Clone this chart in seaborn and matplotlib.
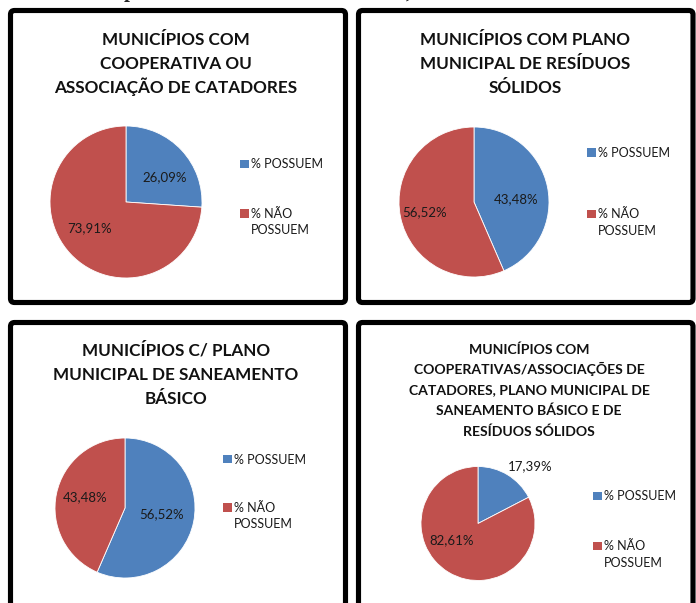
import matplotlib
matplotlib.use("Agg")
import matplotlib.pyplot as plt
from matplotlib.patches import FancyBboxPatch, Rectangle
import seaborn as sns

# ---- data -------------------------------------------------------------
titles = [
    ["MUNICÍPIOS COM", "COOPERATIVA OU", "ASSOCIAÇÃO DE CATADORES"],
    ["MUNICÍPIOS COM PLANO", "MUNICIPAL DE RESÍDUOS", "SÓLIDOS"],
    ["MUNICÍPIOS C/ PLANO", "MUNICIPAL DE SANEAMENTO", "BÁSICO"],
    ["MUNICÍPIOS COM", "COOPERATIVAS/ASSOCIAÇÕES DE",
     "CATADORES, PLANO MUNICIPAL DE", "SANEAMENTO BÁSICO E DE",
     "RESÍDUOS SÓLIDOS"],
]
categories = ["% POSSUEM", "% NÃO\nPOSSUEM"]
possuem = [26.09, 43.48, 56.52, 17.39]
nao_possuem = [73.91, 56.52, 43.48, 82.61]

# ---- layout (pixels, origin top-left) ----------------------------------
W, H = 696, 603
frames = [(10.5, 10.5, 345.5, 302.5), (358.5, 10.5, 693.0, 302.5),
          (10.5, 322.5, 345.5, 640), (358.5, 322.5, 693.0, 640)]
title_cx = [176, 525, 176, 529]
title_baselines = [[45, 69, 93], [45, 69, 93], [356, 380, 404],
                   [353.5, 374, 394.5, 415, 435.5]]
title_sizes = [12.3, 12.3, 12.3, 10.1]
pie_centers = [(126, 202), (474, 202), (125, 508), (478, 523.5)]
pie_radii = [76, 75, 70, 57]
label_pos = [[(165, 177), (90, 228)], [(516, 199), (424.5, 212)],
             [(162, 514), (85, 497)], [(530, 466), (452, 540)]]
legend_x = [240, 587, 223, 593]
legend_y = [(164, 213.5), (152.5, 214), (459, 507.5), (496, 546)]

sns.set_theme(style="white")
plt.rcParams["font.family"] = ["Lato", "DejaVu Sans"]
colors = ["#4F81BD", "#C0504D"]

fig = plt.figure(figsize=(W / 100, H / 100), dpi=100)
fig.patch.set_facecolor("white")

bg = fig.add_axes([0, 0, 1, 1], zorder=0)
bg.set_xlim(0, W)
bg.set_ylim(H, 0)
bg.axis("off")

fg = fig.add_axes([0, 0, 1, 1], zorder=10)
fg.set_xlim(0, W)
fg.set_ylim(H, 0)
fg.axis("off")
fg.patch.set_alpha(0)

# caption fragments from the text above the panels
fg.text(130, -2.5, "p", fontsize=15, fontweight="bold",
        family="Liberation Serif", ha="center", va="baseline")
fg.text(408, -2.0, ",", fontsize=15, fontweight="bold",
        family="Liberation Serif", ha="center", va="baseline")

for i in range(4):
    x0, y0, x1, y1 = frames[i]
    bg.add_patch(FancyBboxPatch((x0, y0), x1 - x0, y1 - y0,
                                boxstyle="round,pad=0,rounding_size=4",
                                facecolor="white", edgecolor="black",
                                linewidth=3.7))
    for line, yb in zip(titles[i], title_baselines[i]):
        fg.text(title_cx[i], yb, line, ha="center", va="baseline",
                fontsize=title_sizes[i], fontweight="bold", color="#111111")

    cx, cy = pie_centers[i]
    r = pie_radii[i]
    ax = fig.add_axes([(cx - r) / W, 1 - (cy + r) / H, 2 * r / W, 2 * r / H],
                      zorder=5)
    values = [possuem[i], nao_possuem[i]]
    ax.pie(values, colors=colors, startangle=90, counterclock=False,
           wedgeprops=dict(linewidth=0.6, edgecolor="white"))
    ax.set_xlim(-1, 1)
    ax.set_ylim(-1, 1)
    ax.axis("off")

    for v, (lx, ly) in zip(values, label_pos[i]):
        fg.text(lx, ly, f"{v:.2f}".replace(".", ",") + "%",
                ha="center", va="center", fontsize=9.5, color="#1a1a1a")

    # legend
    lx = legend_x[i]
    for (yc, name, col) in zip(legend_y[i], categories, colors):
        fg.add_patch(Rectangle((lx, yc - 4.5), 8.5, 8.5, facecolor=col,
                               edgecolor="none"))
        lines = name.split("\n")
        for k, ln in enumerate(lines):
            fg.text(lx + 11, yc + 4.5 + 16.5 * k, ln, ha="left",
                    va="baseline", fontsize=9.0, color="#1a1a1a")

fig.savefig("out.png", dpi=100, facecolor="white")
